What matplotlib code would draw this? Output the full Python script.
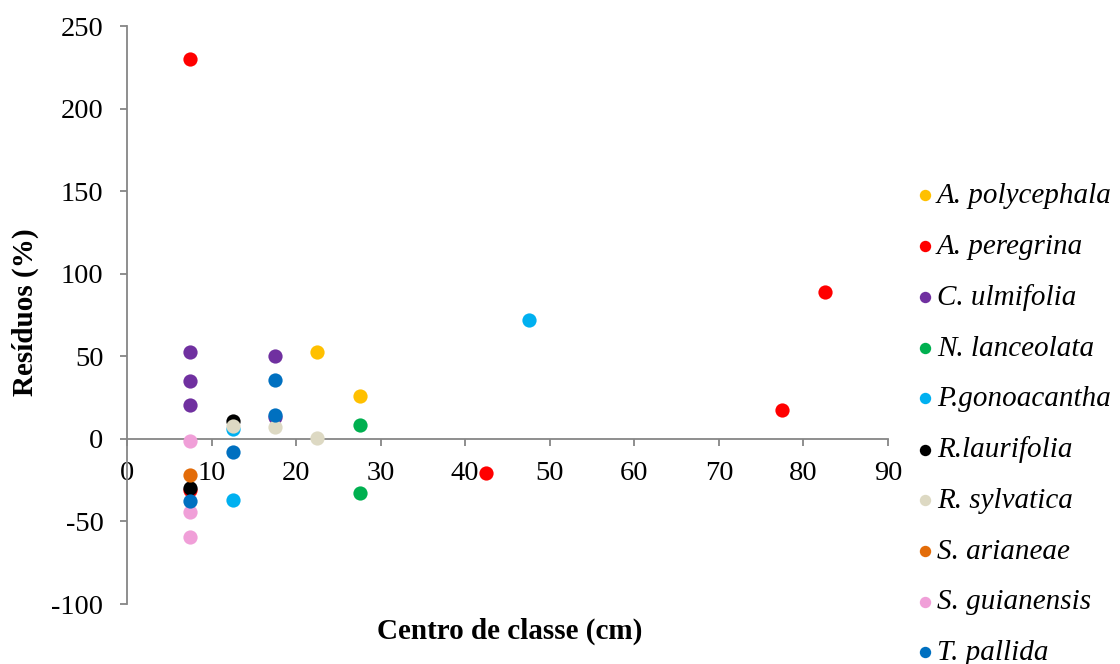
import matplotlib
matplotlib.use("Agg")
import matplotlib.pyplot as plt

species = ["A. polycephala", "A. peregrina", "C. ulmifolia", "N. lanceolata",
           "P.gonoacantha", "R.laurifolia", "R. sylvatica", "S. arianeae",
           "S. guianensis", "T. pallida"]
colors = ["#FFC000", "#FF0000", "#7030A0", "#00B050", "#00B0F0",
          "#000000", "#DDD9C3", "#E36C09", "#F09FD8", "#0070C0"]

x_polycephala = [22.5, 27.5]
y_polycephala = [52.4, 25.7]
x_peregrina = [7.5, 7.5, 42.5, 77.5, 82.5]
y_peregrina = [230, -31, -20.4, 17.2, 89]
x_ulmifolia = [7.5, 7.5, 7.5, 17.5, 17.5]
y_ulmifolia = [52.4, 34.8, 20.6, 50, 13]
x_lanceolata = [27.5, 27.5]
y_lanceolata = [8.5, -33]
x_gonoacantha = [12.5, 12.5, 47.5]
y_gonoacantha = [6, -37, 71.8]
x_laurifolia = [7.5, 12.5]
y_laurifolia = [-29.5, 10.9]
x_sylvatica = [12.5, 17.5, 22.5]
y_sylvatica = [7.5, 6.9, 0.4]
x_arianeae = [7.5]
y_arianeae = [-21.9]
x_guianensis = [7.5, 7.5, 7.5]
y_guianensis = [-1.6, -44, -59.7]
x_pallida = [7.5, 12.5, 17.5, 17.5]
y_pallida = [-37.4, -7.7, 35.4, 14.6]

xs = [x_polycephala, x_peregrina, x_ulmifolia, x_lanceolata, x_gonoacantha,
      x_laurifolia, x_sylvatica, x_arianeae, x_guianensis, x_pallida]
ys = [y_polycephala, y_peregrina, y_ulmifolia, y_lanceolata, y_gonoacantha,
      y_laurifolia, y_sylvatica, y_arianeae, y_guianensis, y_pallida]

xticks = [0, 10, 20, 30, 40, 50, 60, 70, 80, 90]
yticks = [-100, -50, 0, 50, 100, 150, 200, 250]

plt.rcParams['font.family'] = ['Liberation Serif', 'DejaVu Serif']

fig = plt.figure(figsize=(11.2, 6.64), dpi=100)
ax = fig.add_axes([127/1120, 1 - 604/664, (888-127)/1120, (604-26)/664])

for name, c, x, y in zip(species, colors, xs, ys):
    ax.scatter(x, y, s=105, color=c, label=name, zorder=3, linewidths=0)

ax.set_xlim(0, 90)
ax.set_ylim(-100, 250)
ax.set_xticks(xticks)
ax.set_yticks(yticks)
ax.set_xticklabels([str(t) for t in xticks])
ax.set_yticklabels([str(t) for t in yticks])

gray = "#868686"
ax.spines['top'].set_visible(False)
ax.spines['right'].set_visible(False)
ax.spines['bottom'].set_position(('data', 0))
for sp in ['left', 'bottom']:
    ax.spines[sp].set_color(gray)
    ax.spines[sp].set_linewidth(1.3)
ax.tick_params(axis='both', colors=gray, labelcolor='black', labelsize=20.5,
               length=5, width=1.3, direction='out')
ax.tick_params(axis='x', pad=11)
ax.tick_params(axis='y', pad=12)

fig.text(510/1120, 1 - 631/664, "Centro de classe (cm)", fontsize=21,
         fontweight='bold', ha='center', va='center')
fig.text(25/1120, 1 - 312/664, "Resíduos (%)", fontsize=21, fontweight='bold',
         ha='center', va='center', rotation=90)

leg = fig.legend(loc='upper left', bbox_to_anchor=(902/1120, 1 - 171/664),
                 frameon=False, prop={'style': 'italic', 'size': 21},
                 handletextpad=0.0, labelspacing=0.83, markerscale=0.8,
                 borderaxespad=0, handlelength=0.8)

fig.savefig("out.png", dpi=100)
